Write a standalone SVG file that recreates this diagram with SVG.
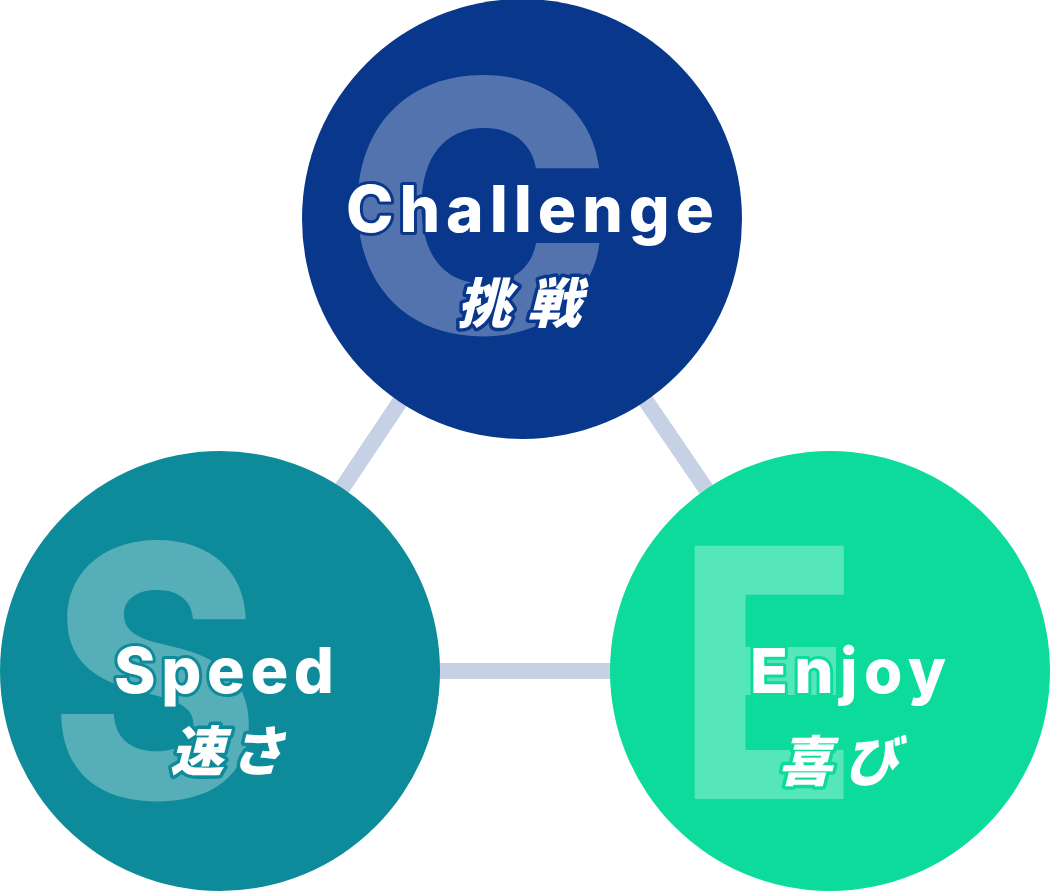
<svg xmlns="http://www.w3.org/2000/svg" width="1050" height="892" viewBox="0 0 1050 892">
<style>
.conn{stroke:#c6d1e5;stroke-width:16;fill:none}
.big{font-family:Inter,"Liberation Sans",sans-serif;font-weight:800;fill:#ffffff;fill-opacity:0.3;text-anchor:middle}
.en{font-family:Inter,"Liberation Sans",sans-serif;font-weight:800;fill:#ffffff;text-anchor:middle;paint-order:stroke;stroke-width:6;stroke-linejoin:round}
.jp{font-family:"Noto Sans CJK JP","Noto Sans",sans-serif;font-weight:900;font-style:italic;fill:#ffffff;text-anchor:middle;paint-order:stroke;stroke-width:7;stroke-linejoin:round}
</style>
<g id="connectors">
<line class="conn" x1="522" y1="219" x2="220" y2="671"/>
<line class="conn" x1="522" y1="219" x2="830" y2="671"/>
<line class="conn" x1="220" y1="671" x2="830" y2="671"/>
</g>
<g id="node-challenge">
<circle cx="522" cy="219" r="220" fill="#08378c"/>
<text class="big" x="478" y="333" font-size="350" textLength="270" lengthAdjust="spacingAndGlyphs">C</text>
<text class="en" x="530" y="232" font-size="64" stroke="#08378c" textLength="368" lengthAdjust="spacing">Challenge</text>
<text class="jp" x="519" y="323" font-size="54" stroke="#08378c" textLength="124" lengthAdjust="spacing">挑戦</text>
</g>
<g id="node-speed">
<circle cx="220" cy="671" r="220" fill="#0e8b9a"/>
<text class="big" x="155" y="798" font-size="350" textLength="210" lengthAdjust="spacingAndGlyphs">S</text>
<text class="en" x="224" y="693" font-size="63" stroke="#0e8b9a" textLength="220" lengthAdjust="spacing">Speed</text>
<text class="jp" x="227" y="771" font-size="54" stroke="#0e8b9a" textLength="114" lengthAdjust="spacing">速さ</text>
</g>
<g id="node-enjoy">
<circle cx="830" cy="671" r="220" fill="#0cdb9c"/>
<text class="big" x="768" y="799" font-size="348" textLength="180" lengthAdjust="spacingAndGlyphs">E</text>
<text class="en" x="848" y="693" font-size="62" stroke="#0cdb9c" textLength="196" lengthAdjust="spacing">Enjoy</text>
<text class="jp" x="838" y="781" font-size="54" stroke="#0cdb9c" textLength="120" lengthAdjust="spacing">喜び</text>
</g>
</svg>
